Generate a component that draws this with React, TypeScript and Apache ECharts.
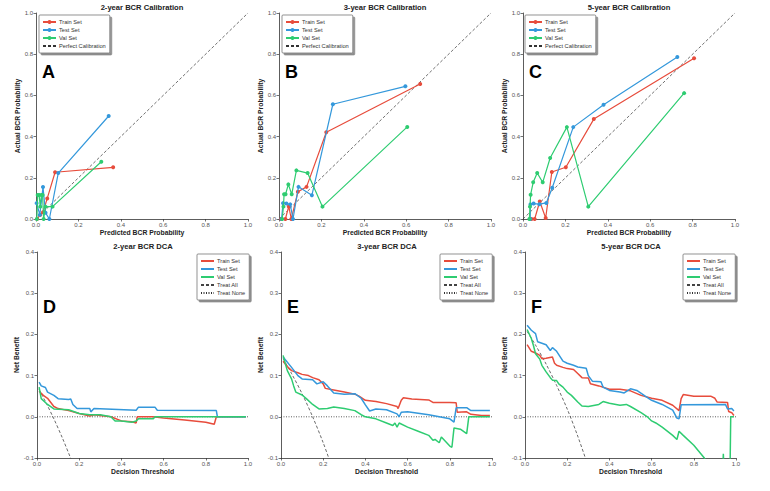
import React, { useEffect, useRef } from "react";
import * as echarts from "echarts";

const FONT = '"Liberation Sans", Arial, sans-serif';
const RED = "#e74c3c";
const BLUE = "#3498db";
const GREEN = "#2ecc71";

const calTitles = ["2-year BCR Calibration", "3-year BCR Calibration", "5-year BCR Calibration"];
const dcaTitles = ["2-year BCR DCA", "3-year BCR DCA", "5-year BCR DCA"];
const panelLetters = ["A", "B", "C", "D", "E", "F"];
const setNames = ["Train Set", "Test Set", "Val Set"];
const perfectLine = [[0, 0], [1, 1]];
const treatNone = [[0, 0], [1, 0]];

// Calibration curves: [mean predicted probability, observed fraction]
const cal2Train = [[0.005, 0.0], [0.02, 0.02], [0.033, 0.033], [0.053, 0.1], [0.09, 0.227], [0.364, 0.251]];
const cal2Test = [[0.003, 0.077], [0.018, 0.02], [0.033, 0.155], [0.045, 0.03], [0.063, 0.0], [0.105, 0.223], [0.343, 0.5]];
const cal2Val = [[0.004, 0.0], [0.008, 0.117], [0.015, 0.117], [0.02, 0.06], [0.026, 0.117], [0.031, 0.117], [0.036, 0.0], [0.045, 0.06], [0.078, 0.06], [0.308, 0.278]];

const cal3Train = [[0.01, 0.0], [0.03, 0.0], [0.046, 0.061], [0.058, 0.0], [0.089, 0.132], [0.13, 0.156], [0.223, 0.421], [0.666, 0.655]];
const cal3Test = [[0.012, 0.0], [0.019, 0.077], [0.035, 0.075], [0.053, 0.071], [0.066, 0.0], [0.092, 0.156], [0.155, 0.115], [0.254, 0.557], [0.596, 0.644]];
const cal3Val = [[0.015, 0.0], [0.021, 0.06], [0.024, 0.12], [0.031, 0.12], [0.044, 0.168], [0.06, 0.12], [0.082, 0.236], [0.135, 0.223], [0.205, 0.06], [0.605, 0.447]];

const cal5Train = [[0.04, 0.0], [0.055, 0.0], [0.079, 0.085], [0.107, 0.005], [0.136, 0.228], [0.202, 0.251], [0.334, 0.485], [0.807, 0.78]];
const cal5Test = [[0.034, 0.0], [0.035, 0.071], [0.05, 0.075], [0.078, 0.072], [0.11, 0.078], [0.138, 0.152], [0.237, 0.446], [0.38, 0.555], [0.728, 0.786]];
const cal5Val = [[0.03, 0.0], [0.033, 0.06], [0.036, 0.118], [0.048, 0.178], [0.067, 0.223], [0.093, 0.178], [0.128, 0.296], [0.207, 0.446], [0.308, 0.06], [0.76, 0.611]];

// Decision curves: [threshold, net benefit]
const dca2Train = [[0.01, 0.062], [0.03, 0.052], [0.05, 0.045], [0.08, 0.025], [0.1, 0.02], [0.15, 0.015], [0.2, 0.008], [0.25, 0.002], [0.27, 0.005], [0.35, 0.0], [0.4, -0.01], [0.45, -0.012], [0.47, -0.015], [0.475, 0.0], [0.55, 0.0], [0.6, -0.003], [0.7, -0.008], [0.8, -0.013], [0.84, -0.018], [0.85, 0.0], [0.99, 0.0]];
const dca2Test = [[0.01, 0.084], [0.02, 0.075], [0.04, 0.071], [0.05, 0.06], [0.08, 0.052], [0.1, 0.044], [0.15, 0.042], [0.16, 0.043], [0.17, 0.03], [0.19, 0.02], [0.25, 0.02], [0.255, 0.012], [0.27, 0.02], [0.47, 0.016], [0.48, 0.023], [0.56, 0.023], [0.57, 0.016], [0.85, 0.015], [0.855, 0.0], [0.99, 0.0]];
const dca2Val = [[0.01, 0.072], [0.02, 0.044], [0.05, 0.03], [0.08, 0.019], [0.15, 0.017], [0.2, 0.008], [0.25, 0.005], [0.3, 0.005], [0.35, 0.0], [0.37, -0.01], [0.4, -0.01], [0.45, -0.013], [0.47, -0.01], [0.48, -0.005], [0.55, -0.005], [0.56, 0.0], [0.99, 0.0]];
const dca2TreatAll = [[0.01, 0.066], [0.04, 0.037], [0.08, -0.005], [0.12, -0.051], [0.16, -0.101], [0.17, -0.114]];

const dca3Train = [[0.01, 0.135], [0.03, 0.122], [0.05, 0.112], [0.08, 0.107], [0.1, 0.103], [0.13, 0.1], [0.15, 0.095], [0.18, 0.09], [0.2, 0.08], [0.21, 0.069], [0.25, 0.065], [0.3, 0.06], [0.35, 0.055], [0.37, 0.05], [0.4, 0.04], [0.45, 0.037], [0.5, 0.032], [0.55, 0.025], [0.555, 0.02], [0.57, 0.04], [0.58, 0.046], [0.62, 0.043], [0.7, 0.041], [0.72, 0.035], [0.8, 0.035], [0.83, 0.034], [0.835, 0.011], [0.88, 0.012], [0.9, 0.006], [0.95, 0.003], [0.99, 0.003]];
const dca3Test = [[0.01, 0.145], [0.05, 0.12], [0.08, 0.1], [0.1, 0.092], [0.15, 0.09], [0.17, 0.08], [0.2, 0.085], [0.22, 0.075], [0.25, 0.058], [0.3, 0.055], [0.35, 0.056], [0.38, 0.045], [0.4, 0.029], [0.42, 0.014], [0.45, 0.019], [0.5, 0.017], [0.55, 0.007], [0.56, 0.0], [0.57, 0.011], [0.6, 0.012], [0.7, 0.005], [0.8, -0.005], [0.82, -0.013], [0.83, 0.022], [0.88, 0.022], [0.9, 0.015], [0.99, 0.015]];
const dca3Val = [[0.01, 0.149], [0.02, 0.13], [0.03, 0.112], [0.05, 0.092], [0.06, 0.075], [0.07, 0.06], [0.1, 0.053], [0.12, 0.044], [0.15, 0.03], [0.18, 0.019], [0.22, 0.02], [0.25, 0.024], [0.3, 0.02], [0.35, 0.015], [0.38, 0.005], [0.4, 0.0], [0.45, -0.005], [0.5, -0.015], [0.53, -0.021], [0.54, -0.015], [0.55, -0.025], [0.56, -0.015], [0.6, -0.025], [0.65, -0.035], [0.7, -0.045], [0.72, -0.057], [0.73, -0.055], [0.75, -0.063], [0.76, -0.049], [0.78, -0.06], [0.8, -0.071], [0.81, -0.074], [0.82, -0.027], [0.85, -0.03], [0.88, -0.041], [0.89, 0.0], [0.99, 0.0]];
const dca3TreatAll = [[0.01, 0.141], [0.05, 0.105], [0.1, 0.056], [0.15, 0.0], [0.2, -0.063], [0.24, -0.12]];

const dca5Train = [[0.01, 0.175], [0.03, 0.159], [0.05, 0.155], [0.07, 0.149], [0.08, 0.141], [0.1, 0.142], [0.13, 0.145], [0.14, 0.13], [0.15, 0.125], [0.18, 0.12], [0.2, 0.117], [0.23, 0.115], [0.25, 0.105], [0.27, 0.095], [0.3, 0.094], [0.31, 0.08], [0.35, 0.075], [0.4, 0.067], [0.45, 0.067], [0.5, 0.063], [0.55, 0.052], [0.6, 0.045], [0.65, 0.04], [0.7, 0.028], [0.73, 0.015], [0.74, 0.044], [0.75, 0.054], [0.8, 0.05], [0.88, 0.05], [0.9, 0.045], [0.91, 0.036], [0.96, 0.035], [0.965, 0.013], [0.98, 0.01], [0.99, 0.003]];
const dca5Test = [[0.01, 0.222], [0.03, 0.21], [0.05, 0.202], [0.06, 0.182], [0.1, 0.175], [0.12, 0.161], [0.13, 0.168], [0.15, 0.159], [0.18, 0.135], [0.2, 0.13], [0.23, 0.125], [0.25, 0.121], [0.29, 0.118], [0.3, 0.1], [0.32, 0.086], [0.36, 0.085], [0.37, 0.072], [0.4, 0.064], [0.45, 0.06], [0.47, 0.058], [0.5, 0.068], [0.53, 0.064], [0.57, 0.05], [0.6, 0.04], [0.65, 0.03], [0.7, 0.016], [0.72, -0.003], [0.73, -0.005], [0.74, 0.029], [0.95, 0.03], [0.96, 0.019], [0.98, 0.02], [0.99, 0.014]];
const dca5Val = [[0.01, 0.212], [0.03, 0.19], [0.04, 0.173], [0.05, 0.153], [0.07, 0.14], [0.08, 0.125], [0.1, 0.109], [0.12, 0.095], [0.13, 0.089], [0.15, 0.088], [0.16, 0.08], [0.18, 0.072], [0.2, 0.06], [0.22, 0.052], [0.25, 0.036], [0.27, 0.026], [0.3, 0.025], [0.35, 0.03], [0.37, 0.037], [0.4, 0.033], [0.45, 0.028], [0.48, 0.03], [0.5, 0.025], [0.55, 0.01], [0.58, 0.0], [0.6, -0.01], [0.62, -0.015], [0.65, -0.025], [0.7, -0.045], [0.72, -0.055], [0.73, -0.035], [0.75, -0.045], [0.8, -0.069], [0.85, -0.1], [0.9, -0.15], [0.935, -0.16], [0.94, -0.09], [0.945, -0.15], [0.97, -0.2], [0.975, 0.0], [0.99, 0.0]];
const dca5TreatAll = [[0.01, 0.207], [0.05, 0.174], [0.1, 0.128], [0.15, 0.076], [0.2, 0.019], [0.25, -0.047], [0.3, -0.121]];

const calData = [
  [cal2Train, cal2Test, cal2Val],
  [cal3Train, cal3Test, cal3Val],
  [cal5Train, cal5Test, cal5Val],
];
const dcaData = [
  [dca2Train, dca2Test, dca2Val, dca2TreatAll],
  [dca3Train, dca3Test, dca3Val, dca3TreatAll],
  [dca5Train, dca5Test, dca5Val, dca5TreatAll],
];

// Plot-area layout of the 3x2 panel grid
const calLefts = [36, 279, 523];
const dcaLefts = [37, 281, 525];
const PLOT_W = 212;
const PLOT_H = 206;
const CAL_TOP = 13;
const DCA_TOP = 252;
const calLegendLefts = [39, 282, 525];
const dcaLegendLefts = [197, 440, 683];

const DCA_TAG = " \u00b7 DCA";
const colors = [RED, BLUE, GREEN];

function axisBase(gridIndex: number, name: string, isY: boolean, dca: boolean) {
  return {
    type: "value",
    gridIndex,
    min: isY && dca ? -0.1 : 0,
    max: isY && dca ? 0.4 : 1,
    interval: isY && dca ? 0.1 : 0.2,
    name,
    nameLocation: "middle",
    nameGap: isY ? (dca ? 15 : 13) : 10,
    nameTextStyle: { fontFamily: FONT, fontSize: 6.8, fontWeight: "bold", color: "#222" },
    axisLine: { show: true, onZero: false, lineStyle: { color: "#333", width: 0.8 } },
    axisTick: { show: true, length: 2.5, lineStyle: { color: "#333", width: 0.7 } },
    axisLabel: {
      fontFamily: FONT,
      fontSize: 6,
      color: "#555",
      margin: 3,
      formatter: (v: number) => v.toFixed(1),
    },
    splitLine: { show: false },
  };
}

// Legend entry for a plain line (no marker in its icon)
const lineOnly = (name: string) => ({ name, itemStyle: { opacity: 0 } });

function buildOption() {
  const grid: any[] = [];
  const xAxis: any[] = [];
  const yAxis: any[] = [];
  const series: any[] = [];
  const legend: any[] = [];
  const graphic: any[] = [];

  const legendBase = {
    orient: "vertical",
    itemWidth: 13,
    itemHeight: 5,
    itemGap: 0,
    padding: [3, 4, 3, 3],
    backgroundColor: "#ffffff",
    borderColor: "#666",
    borderWidth: 0.7,
    borderRadius: 1,
    shadowColor: "rgba(0,0,0,0.45)",
    shadowBlur: 1,
    shadowOffsetX: 2,
    shadowOffsetY: 2,
    textStyle: { fontFamily: FONT, fontSize: 5.7, color: "#333", lineHeight: 8, padding: [0, 0, 0, -2] },
  };

  // Calibration panels occupy grids 0-2, decision-curve panels grids 3-5
  for (let p = 0; p < 3; p++) {
    grid.push({ left: calLefts[p], top: CAL_TOP, width: PLOT_W, height: PLOT_H });
    xAxis.push(axisBase(p, "Predicted BCR Probability", false, false));
    yAxis.push(axisBase(p, "Actual BCR Probability", true, false));
  }
  for (let p = 0; p < 3; p++) {
    const h = p + 3;
    grid.push({ left: dcaLefts[p], top: DCA_TOP, width: PLOT_W - 1, height: PLOT_H });
    xAxis.push(axisBase(h, "Decision Threshold", false, true));
    yAxis.push(axisBase(h, "Net Benefit", true, true));
  }

  for (let p = 0; p < 3; p++) {
    const g = p;
    series.push({
      name: "Perfect Calibration",
      type: "line",
      xAxisIndex: g,
      yAxisIndex: g,
      data: perfectLine,
      symbol: "none",
      z: 1,
      lineStyle: { color: "#333", width: 0.7, type: [3, 2] },
    });
    calData[p].forEach((d, i) => {
      series.push({
        name: setNames[i],
        type: "line",
        xAxisIndex: g,
        yAxisIndex: g,
        data: d,
        symbol: "circle",
        symbolSize: 4,
        z: 3 + i,
        itemStyle: { color: colors[i] },
        lineStyle: { color: colors[i], width: 1.2 },
      });
    });
    legend.push({
      ...legendBase,
      left: calLegendLefts[p],
      top: 15,
      data: [...setNames, lineOnly("Perfect Calibration")],
    });

    const h = p + 3;
    series.push({
      name: "Treat None" + DCA_TAG,
      type: "line",
      xAxisIndex: h,
      yAxisIndex: h,
      data: treatNone,
      symbol: "none",
      z: 1,
      lineStyle: { color: "#333", width: 0.8, type: [1, 1.5] },
    });
    series.push({
      name: "Treat All" + DCA_TAG,
      type: "line",
      xAxisIndex: h,
      yAxisIndex: h,
      data: dcaData[p][3],
      symbol: "none",
      smooth: 0.3,
      z: 1,
      lineStyle: { color: "#444", width: 0.8, type: [3, 2] },
    });
    for (let i = 0; i < 3; i++) {
      series.push({
        name: setNames[i] + DCA_TAG,
        type: "line",
        xAxisIndex: h,
        yAxisIndex: h,
        data: dcaData[p][i],
        symbol: "none",
        z: 3 + i,
        lineStyle: { color: colors[i], width: 1.5 },
        itemStyle: { color: colors[i] },
      });
    }
    legend.push({
      ...legendBase,
      left: dcaLegendLefts[p],
      top: 254,
      data: [...setNames, "Treat All", "Treat None"].map((n) => lineOnly(n + DCA_TAG)),
      formatter: (n: string) => n.replace(DCA_TAG, ""),
    });

    // Panel titles
    graphic.push({
      type: "text",
      x: calLefts[p] + PLOT_W / 2,
      y: 7,
      style: { text: calTitles[p], fill: "#222", font: `bold 7.6px ${FONT}`, textAlign: "center", textVerticalAlign: "middle" },
    });
    graphic.push({
      type: "text",
      x: dcaLefts[p] + PLOT_W / 2,
      y: 246,
      style: { text: dcaTitles[p], fill: "#222", font: `bold 7.6px ${FONT}`, textAlign: "center", textVerticalAlign: "middle" },
    });
    // Panel letters
    graphic.push({
      type: "text",
      x: calLefts[p] + 6,
      y: 72,
      style: { text: panelLetters[p], fill: "#000", font: `bold 18px ${FONT}`, textAlign: "left", textVerticalAlign: "middle" },
    });
    graphic.push({
      type: "text",
      x: dcaLefts[p] + 6,
      y: 307,
      style: { text: panelLetters[p + 3], fill: "#000", font: `bold 18px ${FONT}`, textAlign: "left", textVerticalAlign: "middle" },
    });
  }

  return {
    animation: false,
    backgroundColor: "#ffffff",
    textStyle: { fontFamily: FONT },
    grid,
    xAxis,
    yAxis,
    series,
    legend,
    graphic,
  };
}

export default function App() {
  const ref = useRef<HTMLDivElement>(null);
  useEffect(() => {
    if (!ref.current) return;
    const chart = echarts.init(ref.current, undefined, { renderer: "svg" });
    chart.setOption(buildOption() as any);
    return () => chart.dispose();
  }, []);
  return (
    <div
      ref={ref}
      style={{ position: "fixed", left: 0, top: 0, width: 770, height: 491, background: "#fff" }}
    />
  );
}
